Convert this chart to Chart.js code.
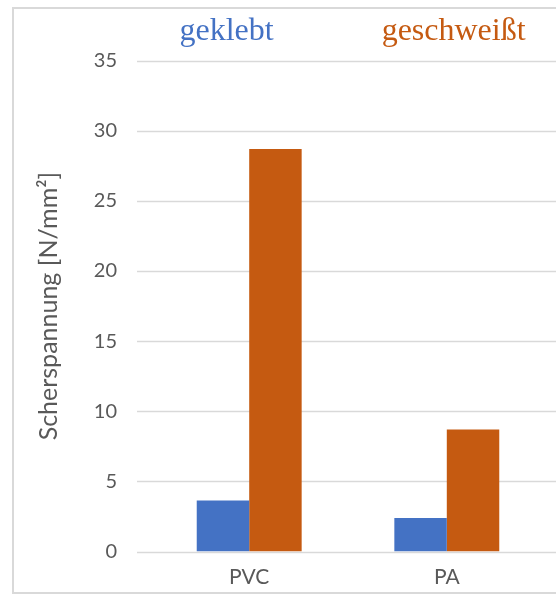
<!DOCTYPE html>
<html lang="de">
<head>
<meta charset="utf-8">
<title>Scherspannung geklebt / geschweißt</title>
<script src="https://cdn.jsdelivr.net/npm/chart.js@4/dist/chart.umd.min.js"></script>
<style>
  html, body { margin: 0; padding: 0; background: #ffffff; overflow: hidden; }
  #wrap { position: relative; width: 556px; height: 597px; }
  #frame {
    position: absolute; left: 12px; top: 7px; width: 620px; height: 587px;
    border: 2px solid #d9d9d9; box-sizing: border-box;
  }
  canvas { position: absolute; left: 0; top: 0; }
</style>
</head>
<body>
<div id="wrap">
  <div id="frame"></div>
  <canvas id="chart" width="556" height="597"></canvas>
</div>
<script>
// Werkstoffe und Scherspannung je Fügeverfahren [N/mm²]
const categories = ['PVC', 'PA'];
const seriesNames = ['geklebt', 'geschweißt'];
const geklebt = [3.65, 2.4];
const geschweisst = [28.7, 8.7];
const yTicks = [0, 5, 10, 15, 20, 25, 30, 35];

const BLUE = '#4472C4';
const ORANGE = '#C55A11';
const GREY_TEXT = '#595959';
const GRID = '#d9d9d9';

// horizontal grid lines run past the plot area to the right edge
const wideGrid = {
  id: 'wideGrid',
  beforeDatasetsDraw(chart) {
    const y = chart.scales.y;
    const ctx = chart.ctx;
    ctx.save();
    ctx.strokeStyle = GRID;
    ctx.lineWidth = 1.6;
    y.ticks.forEach(t => {
      const py = Math.round(y.getPixelForValue(t.value)) + 0.5;
      ctx.beginPath();
      ctx.moveTo(137, py);
      ctx.lineTo(chart.width, py);
      ctx.stroke();
    });
    ctx.restore();
  }
};

new Chart(document.getElementById('chart'), {
  type: 'bar',
  data: {
    labels: categories,
    datasets: [
      { label: seriesNames[0], data: geklebt, backgroundColor: BLUE, borderWidth: 0 },
      { label: seriesNames[1], data: geschweisst, backgroundColor: ORANGE, borderWidth: 0 }
    ]
  },
  options: {
    responsive: false,
    animation: false,
    devicePixelRatio: 1,
    layout: { padding: { top: -6.5, right: 10.4, bottom: 0, left: 0 } },
    datasets: { bar: { categoryPercentage: 0.531, barPercentage: 1.0 } },
    plugins: {
      tooltip: { enabled: false },
      legend: {
        position: 'top',
        align: 'end',
        labels: {
          boxWidth: 72,
          boxHeight: 37,
          padding: 20,
          font: { family: '"Liberation Serif", "Times New Roman", serif', size: 32 },
          generateLabels(chart) {
            return chart.data.datasets.map((ds, i) => ({
              text: ds.label,
              fillStyle: 'rgba(0,0,0,0)',
              strokeStyle: 'rgba(0,0,0,0)',
              lineWidth: 0,
              fontColor: ds.backgroundColor,
              hidden: false,
              datasetIndex: i
            }));
          }
        }
      }
    },
    scales: {
      x: {
        grid: { display: false, drawTicks: false, tickLength: 0 },
        border: { display: false },
        ticks: {
          color: GREY_TEXT,
          padding: 13,
          font: { family: 'Lato, "Open Sans", sans-serif', size: 21 }
        },
        afterFit(scale) { scale.height = 44; }
      },
      y: {
        min: 0,
        max: 35,
        afterBuildTicks(scale) { scale.ticks = yTicks.map(v => ({ value: v })); },
        grid: { display: false, drawTicks: false, tickLength: 0 },
        border: { display: false },
        ticks: {
          color: GREY_TEXT,
          padding: 33.4,
          font: { family: 'Lato, "Open Sans", sans-serif', size: 20 }
        },
        title: {
          display: true,
          text: 'Scherspannung [N/mm²]',
          color: GREY_TEXT,
          padding: { top: 34, bottom: 0 },
          font: { family: 'Lato, "Open Sans", sans-serif', size: 25 }
        },
        afterFit(scale) { scale.width = 150.4; }
      }
    }
  },
  plugins: [wideGrid]
});
</script>
</body>
</html>
